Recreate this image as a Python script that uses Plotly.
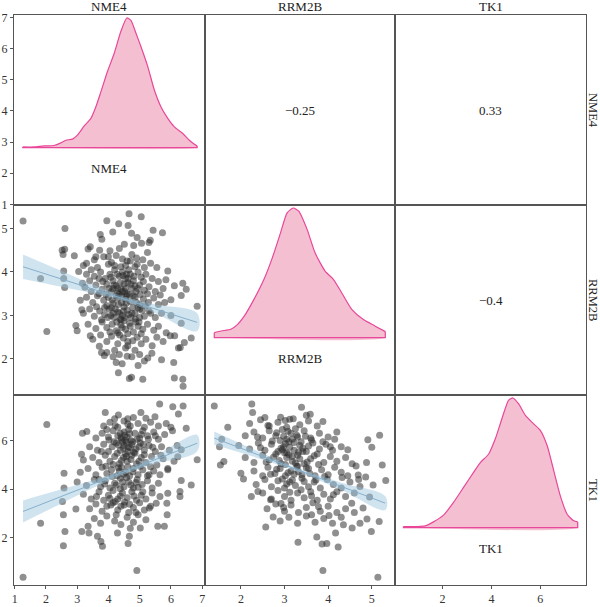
import plotly.graph_objects as go
from plotly.subplots import make_subplots

# ---------------- data ----------------
variables = ["NME4", "RRM2B", "TK1"]
corr_labels_pos = [(1, 2), (1, 3), (2, 3)]
corr_values = [-0.25, 0.33, -0.4]

axis_ranges = {"NME4": [0.98, 7.08], "RRM2B": [1.17, 5.54], "TK1": [0.07, 7.87]}
tick_values = {"NME4": [1, 2, 3, 4, 5, 6, 7], "RRM2B": [2, 3, 4, 5], "TK1": [2, 4, 6]}

# scatter NME4 (x) vs RRM2B (y)
pts_nme4_rrm2b = [
    (1.27,5.17),(2.61,5.0),(4.66,5.34),(5.05,5.27),(3.95,5.18),(4.33,5.11),(4.63,5.07),(4.74,4.89),(4.14,4.92),
    (3.74,4.86),(3.79,4.75),(5.43,4.96),(5.73,4.90),(4.92,4.79),(5.34,4.73),(5.06,4.66),(5.30,4.68),(2.52,4.50),
    (2.60,4.52),(2.55,4.40),(2.91,4.37),(3.42,4.58),(3.35,4.53),(3.72,4.50),(4.05,4.49),(4.35,4.54),(4.51,4.64),
    (4.81,4.61),(1.83,3.85),(2.03,2.63),(2.57,4.02),(2.57,3.85),(2.60,3.64),(3.05,4.01),(3.17,3.74),(2.96,2.77),
    (3.00,2.65),(3.15,3.13),(3.42,2.53),(3.71,2.29),(3.87,2.08),(3.78,2.15),(4.32,1.68),(4.44,1.89),(4.67,1.55),
    (4.74,1.58),(5.10,1.53),(4.60,2.06),(5.26,2.02),(5.39,2.13),(5.70,1.98),(6.09,1.92),(6.11,1.56),(6.38,1.53),
    (6.39,1.37),(6.24,2.25),(6.30,2.26),(6.43,2.38),(6.65,2.48),(6.84,3.21),(6.38,3.74),(6.49,3.60),(6.33,3.46),
    (6.11,3.68),(6.12,2.53),(5.98,2.53),(6.33,2.82),(5.90,4.02),(6.00,3.36),(5.84,3.82),(5.66,3.47),
    (3.55,4.28),(3.85,4.35),(4.10,4.22),(4.25,4.38),(4.45,4.30),(4.60,4.25),(4.75,4.40),(4.90,4.32),(5.10,4.28),
    (5.25,4.45),(3.30,4.20),(3.65,4.10),(4.00,4.18),(4.55,4.15),(4.85,4.12),(5.35,4.20),(5.55,4.10),(3.20,4.15),
    (3.45,4.05),(3.30,3.95),(3.55,3.90),(3.75,4.00),(3.90,3.85),(4.05,3.95),(4.20,4.05),(4.35,3.90),(4.45,4.00),
    (4.55,3.85),(4.70,3.95),(4.80,3.80),(4.95,4.00),(5.05,3.88),(5.20,3.95),(5.40,3.85),(5.60,3.78),(3.40,3.80),
    (4.15,3.80),(4.62,3.75),(3.25,3.65),(3.45,3.55),(3.60,3.70),(3.80,3.60),(3.95,3.72),(4.10,3.55),(4.25,3.68),
    (4.40,3.60),(4.50,3.72),(4.60,3.50),(4.75,3.62),(4.88,3.55),(5.00,3.70),(5.15,3.58),(5.30,3.66),(5.50,3.55),
    (5.75,3.62),(4.30,3.52),(4.55,3.62),(3.70,3.50),(3.10,3.35),(3.30,3.42),(3.50,3.30),(3.65,3.45),(3.85,3.35),
    (4.00,3.42),(4.15,3.28),(4.30,3.40),(4.42,3.30),(4.58,3.45),(4.70,3.32),(4.85,3.42),(5.00,3.25),(5.12,3.38),
    (5.28,3.30),(5.45,3.40),(5.60,3.25),(5.80,3.30),(3.95,3.22),(4.50,3.20),(4.35,3.48),(3.20,3.05),(3.40,3.15),
    (3.55,2.98),(3.72,3.10),(3.88,3.02),(4.02,3.15),(4.18,2.95),(4.30,3.08),(4.45,3.00),(4.60,3.12),(4.72,2.95),
    (4.85,3.05),(5.00,3.15),(5.15,2.98),(5.30,3.10),(5.50,2.95),(5.70,3.05),(6.00,3.00),(4.38,2.92),(4.08,3.00),
    (3.35,2.80),(3.60,2.70),(3.80,2.85),(3.95,2.72),(4.12,2.80),(4.25,2.65),(4.40,2.78),(4.55,2.68),(4.68,2.82),
    (4.80,2.62),(4.95,2.75),(5.10,2.68),(5.25,2.80),(5.45,2.66),(5.60,2.75),(5.85,2.60),(4.50,2.88),(3.50,2.45),
    (3.75,2.55),(3.95,2.40),(4.10,2.52),(4.30,2.35),(4.48,2.48),(4.62,2.30),(4.78,2.42),(4.92,2.50),(5.05,2.35),
    (5.20,2.45),(5.40,2.30),(5.55,2.50),(5.75,2.40),(4.20,2.20),(4.85,2.20),(3.95,2.15),(4.15,2.05),(4.35,2.10),
    (4.55,2.25),(4.75,2.05),(5.00,2.10),(5.15,1.95),(4.95,1.85),(4.25,1.92),
    (3.82,3.78),(3.92,3.48),(4.02,3.62),(4.08,3.88),(4.12,3.35),(4.18,3.70),(4.22,3.15),(4.28,3.95),(4.32,3.25),
    (4.38,3.75),(4.42,3.45),(4.47,3.92),(4.48,3.10),(4.52,3.55),(4.57,3.28),(4.63,3.85),(4.65,3.02),(4.68,3.48),
    (4.72,3.72),(4.78,3.18),(4.82,3.90),(4.86,2.92),(4.90,3.30),(4.94,3.62),(4.98,2.85),(5.02,3.48),(5.08,3.12),
    (5.12,3.78),(5.18,3.22),(3.88,3.18),(3.98,2.95),(4.05,2.62),(4.15,3.05),(4.27,2.85),(4.36,2.55),(4.44,2.72),
    (4.53,2.95),(4.62,2.58),(4.70,2.75),(4.88,2.85),(5.05,2.58),(4.20,4.15),(4.40,4.12),(4.65,4.05),(4.92,4.18),
    (4.30,3.62),(4.58,3.95),(4.80,3.45),(4.10,3.18),(4.35,3.05),(3.70,3.85),(3.62,3.20),(3.78,2.90),(3.60,4.35),
    (5.25,3.50),(5.35,3.05),(5.15,4.10),(4.00,4.35),(4.70,4.25),(4.45,3.55),(4.25,3.45),(4.55,3.38),(4.75,3.05),
    (4.95,3.18),(4.15,3.62),(4.85,3.68),(4.40,2.90),(4.62,2.40),(4.30,2.60),(5.00,2.95),
]

# scatter NME4 (x) vs TK1 (y)
pts_nme4_tk1 = [
    (1.27,0.39),(2.03,6.66),(1.83,2.61),(2.58,4.66),(2.58,4.05),(2.53,3.50),(2.56,2.95),(2.56,1.68),(2.61,2.27),
    (2.96,3.19),(3.15,2.27),(3.17,6.30),(3.31,6.37),(3.14,5.44),(3.35,2.48),(3.38,2.20),(3.65,2.07),(3.81,1.66),
    (3.76,1.86),(3.90,7.15),(4.32,7.05),(4.62,6.89),(5.04,7.15),(5.20,6.92),(5.49,6.98),(5.64,7.50),(6.06,7.39),
    (6.39,7.42),(6.24,7.09),(6.49,6.51),(6.84,5.21),(6.65,4.18),(6.33,4.36),(6.29,3.91),(6.29,3.70),(5.88,2.95),
    (5.79,2.48),(5.58,2.48),(4.91,0.67),(4.63,1.77),(4.29,2.20),(4.67,2.07),(5.02,2.41),(5.31,3.23),(5.53,3.43),
    (5.87,3.43),(5.90,3.84),(6.22,5.34),(6.33,5.62),(5.90,4.80),
    (3.85,6.60),(4.05,6.75),(4.30,6.55),(4.50,6.80),(4.70,6.60),(4.95,6.70),(5.15,6.55),(5.35,6.75),(5.60,6.60),
    (5.85,6.70),(4.20,6.90),(4.80,6.95),(6.00,6.55),(3.60,6.10),(3.80,6.30),(4.00,6.15),(4.15,6.40),(4.30,6.20),
    (4.42,6.05),(4.50,6.35),(4.60,6.15),(4.72,6.00),(4.85,6.30),(5.00,6.10),(5.10,6.40),(5.25,6.20),(5.45,6.35),
    (5.60,6.05),(5.80,6.25),(6.05,6.40),(4.38,6.30),(4.65,6.45),(4.55,6.00),(3.40,5.75),(3.65,5.60),(3.85,5.85),
    (4.00,5.55),(4.12,5.75),(4.25,5.90),(4.38,5.60),(4.50,5.80),(4.62,5.55),(4.75,5.85),(4.88,5.65),(5.02,5.90),
    (5.15,5.60),(5.30,5.80),(5.50,5.55),(5.70,5.75),(5.95,5.60),(6.20,5.80),(4.45,5.95),(4.70,5.70),(3.20,5.20),
    (3.50,5.30),(3.70,5.10),(3.90,5.40),(4.05,5.15),(4.20,5.35),(4.35,5.05),(4.48,5.30),(4.60,5.15),(4.75,5.40),
    (4.90,5.05),(5.05,5.30),(5.20,5.10),(5.38,5.35),(5.55,5.00),(5.75,5.25),(6.10,5.15),(4.55,5.45),(3.10,4.70),
    (3.35,4.85),(3.60,4.60),(3.80,4.90),(3.95,4.65),(4.10,4.80),(4.28,4.55),(4.42,4.90),(4.55,4.70),(4.68,4.55),
    (4.80,4.85),(4.95,4.60),(5.10,4.80),(5.25,4.55),(5.45,4.75),(5.65,4.60),(5.90,4.85),(4.35,4.75),(3.00,4.30),
    (3.30,4.15),(3.55,4.40),(3.75,4.10),(3.90,4.35),(4.05,4.05),(4.20,4.25),(4.38,4.45),(4.50,4.10),(4.65,4.30),
    (4.80,4.05),(4.92,4.40),(5.08,4.20),(5.25,4.35),(5.40,4.05),(5.60,4.25),(4.45,4.30),(3.20,3.80),(3.45,3.60),
    (3.70,3.90),(3.85,3.55),(4.00,3.75),(4.15,3.95),(4.30,3.60),(4.45,3.85),(4.60,3.65),(4.75,3.90),(4.90,3.55),
    (5.05,3.75),(5.20,3.60),(5.40,3.85),(5.65,3.70),(4.22,3.50),(3.40,3.20),(3.60,3.40),(3.80,3.10),(3.95,3.30),
    (4.15,3.45),(4.30,3.15),(4.50,3.35),(4.65,3.05),(4.80,3.25),(5.00,3.45),(5.15,3.15),(5.35,3.30),(3.55,2.80),
    (3.75,2.60),(3.95,2.90),(4.20,2.70),(4.40,2.55),(4.60,2.85),(4.80,2.65),(4.95,2.95),(5.20,2.75),
    (4.02,6.02),(4.18,5.95),(4.32,5.82),(4.40,6.12),(4.48,5.68),(4.52,6.22),(4.58,5.92),(4.64,5.72),(4.68,6.28),
    (4.78,5.95),(4.82,5.52),(4.92,6.05),(4.98,5.75),(5.05,6.25),(5.12,5.85),(4.28,5.48),(4.42,5.18),(4.58,5.35),
    (4.72,5.22),(4.85,5.48),(4.98,5.15),(5.15,5.42),(4.15,5.02),(4.32,4.88),(4.48,4.62),(4.62,4.92),(4.78,4.72),
    (4.88,4.28),(5.02,4.95),(4.12,4.52),(4.25,4.18),(4.38,4.02),(4.58,4.48),(4.72,4.18),(4.95,4.08),(4.05,3.62),
    (4.38,3.72),(4.52,3.48),(4.82,3.72),(4.68,3.38),(3.92,4.95),(3.78,5.55),(3.95,6.45),(4.22,6.62),(4.62,6.68),
    (5.28,6.05),(5.42,5.72),(5.35,4.92),(3.70,4.40),(3.62,3.70),(4.88,3.05),(4.40,3.30),(4.25,2.95),(4.70,2.40),
    (5.10,3.90),(5.30,4.60),(5.50,6.20),(5.68,5.40),(3.88,4.22),(4.08,3.35),
]

# scatter RRM2B (x) vs TK1 (y)
pts_rrm2b_tk1 = [
    (1.39,7.42),(2.25,7.50),(2.27,7.15),(1.70,6.55),(1.56,6.05),(1.51,5.75),(1.53,5.00),(1.61,5.14),(2.00,4.66),
    (2.06,4.42),(2.24,3.70),(2.39,3.91),(2.57,2.45),(2.68,3.57),(2.74,2.86),(2.91,6.96),(3.12,6.87),(3.39,7.37),
    (3.50,7.04),(3.59,7.08),(3.88,6.78),(3.31,1.82),(3.88,0.67),(3.86,1.75),(3.97,1.77),(3.74,2.04),(4.17,2.20),
    (4.23,1.63),(4.35,2.54),(4.55,2.41),(4.73,2.61),(4.89,2.78),(4.99,2.27),(5.17,2.68),(5.14,0.39),(4.91,6.03),
    (5.00,5.73),(5.18,6.22),(4.88,5.10),(5.24,5.00),(5.32,4.36),(5.03,4.18),(4.86,4.50),(4.69,4.59),(4.64,4.96),
    (4.73,4.11),(4.95,3.68),(4.80,3.23),(4.54,3.43),
    (2.20,6.70),(2.45,6.85),(2.65,6.60),(2.85,6.75),(3.05,6.55),(3.20,6.90),(3.35,6.65),(3.55,6.80),(3.75,6.60),
    (2.55,6.95),(2.10,6.20),(2.30,6.35),(2.50,6.10),(2.65,6.40),(2.80,6.20),(2.95,6.45),(3.05,6.05),(3.15,6.30),
    (3.30,6.15),(3.45,6.40),(3.60,6.10),(3.80,6.30),(4.00,6.15),(4.20,6.35),(3.25,6.48),(2.90,6.00),(1.95,5.80),
    (2.20,5.65),(2.40,5.90),(2.55,5.60),(2.70,5.85),(2.85,5.55),(2.98,5.75),(3.10,5.95),(3.22,5.60),(3.35,5.80),
    (3.50,5.55),(3.65,5.90),(3.80,5.65),(3.95,5.85),(4.10,5.60),(4.30,5.75),(3.05,5.50),(2.10,5.30),(2.30,5.10),
    (2.50,5.40),(2.65,5.20),(2.80,5.45),(2.92,5.05),(3.05,5.30),(3.18,5.15),(3.30,5.40),(3.45,5.05),(3.60,5.25),
    (3.75,5.45),(3.90,5.10),(4.05,5.35),(4.20,5.15),(4.40,5.30),(4.55,5.05),(3.00,5.50),(2.30,4.75),(2.50,4.55),
    (2.62,4.90),(2.78,4.65),(2.90,4.85),(3.02,4.55),(3.15,4.75),(3.28,4.95),(3.40,4.60),(3.55,4.85),(3.70,4.55),
    (3.85,4.80),(4.00,4.60),(4.15,4.90),(4.30,4.70),(4.45,4.55),(3.22,4.62),(2.35,4.20),(2.55,4.40),(2.70,4.10),
    (2.85,4.35),(3.00,4.05),(3.12,4.30),(3.25,4.15),(3.40,4.45),(3.55,4.10),(3.68,4.30),(3.82,4.05),(3.98,4.40),
    (4.12,4.20),(4.30,4.05),(4.50,4.30),(4.70,4.40),(2.50,3.85),(2.70,3.60),(2.85,3.95),(3.00,3.70),(3.15,3.55),
    (3.30,3.85),(3.45,3.65),(3.60,3.90),(3.75,3.55),(3.90,3.80),(4.05,3.60),(4.20,3.90),(4.40,3.70),(4.60,3.85),
    (2.60,3.20),(2.80,3.40),(3.00,3.10),(3.15,3.35),(3.32,3.05),(3.50,3.25),(3.65,3.45),(3.82,3.10),(4.00,3.30),
    (4.20,3.05),(4.40,3.20),(4.60,3.05),(2.90,2.70),(3.10,2.85),(3.30,2.60),(3.50,2.90),(3.70,2.65),(3.90,2.80),
    (4.10,2.60),(4.30,2.85),
    (2.72,5.98),(2.82,6.32),(2.92,5.68),(2.98,6.18),(3.02,5.88),(3.08,6.38),(3.12,5.72),(3.18,6.05),(3.22,5.92),
    (3.28,6.22),(3.32,5.52),(3.38,5.95),(3.42,5.68),(3.48,6.18),(3.55,5.78),(3.62,6.02),(2.75,5.32),(2.88,5.18),
    (2.95,5.62),(3.02,5.02),(3.10,5.42),(3.18,5.35),(3.25,5.08),(3.35,5.25),(3.42,5.55),(3.52,5.12),(3.68,5.38),
    (3.78,5.02),(2.82,4.82),(2.95,4.42),(3.08,4.68),(3.18,4.38),(3.32,4.72),(3.45,4.32),(3.58,4.65),(3.72,4.38),
    (3.92,4.52),(2.68,4.62),(2.58,5.12),(2.45,5.70),(2.38,6.15),(3.88,5.95),(4.05,5.75),(3.62,3.72),(3.38,3.98),
    (3.12,3.88),(2.92,3.42),(3.78,3.28),(4.12,3.78),(4.32,4.48),(4.45,5.62),(4.15,6.05),(2.62,6.62),(3.02,6.82),
    (3.30,4.95),(3.05,4.22),(3.50,4.88),(2.98,3.25),(3.62,2.95),(4.02,2.92),
]

# linear fits with confidence bands (x, fit, lower, upper)
fit_nme4_rrm2b_x = [1.27, 2.5, 3.5, 4.5, 5.5, 6.84]
fit_nme4_rrm2b_y = [4.12, 3.84, 3.61, 3.38, 3.15, 2.84]
fit_nme4_rrm2b_lo = [3.84, 3.66, 3.51, 3.33, 3.05, 2.64]
fit_nme4_rrm2b_hi = [4.40, 4.02, 3.71, 3.43, 3.25, 3.05]

fit_nme4_tk1_x = [1.27, 2.5, 3.5, 4.5, 5.5, 6.84]
fit_nme4_tk1_y = [3.09, 3.71, 4.21, 4.71, 5.21, 5.89]
fit_nme4_tk1_lo = [2.64, 3.42, 4.05, 4.62, 5.05, 5.56]
fit_nme4_tk1_hi = [3.54, 4.00, 4.37, 4.80, 5.37, 6.23]

fit_rrm2b_tk1_x = [1.39, 2.3, 3.3, 4.3, 5.31]
fit_rrm2b_tk1_y = [6.10, 5.48, 4.80, 4.12, 3.43]
fit_rrm2b_tk1_lo = [5.83, 5.33, 4.73, 3.97, 3.15]
fit_rrm2b_tk1_hi = [6.37, 5.63, 4.87, 4.27, 3.71]

# density curves (relative height, peak = 1)
dens_nme4_x = [1.26,1.62,1.94,2.26,2.48,2.64,2.85,3.01,3.22,3.44,3.60,3.76,3.97,4.19,4.40,4.59,4.72,4.88,
               5.04,5.26,5.47,5.68,5.90,6.11,6.38,6.59,6.75,6.84]
dens_nme4_y = [0.005,0.005,0.013,0.016,0.036,0.057,0.065,0.096,0.165,0.225,0.315,0.43,0.587,0.73,0.897,1.0,
               0.982,0.884,0.78,0.625,0.444,0.315,0.225,0.16,0.109,0.057,0.026,0.013]
dens_rrm2b_x = [1.39,1.55,1.77,1.92,2.08,2.30,2.53,2.72,2.91,3.06,3.20,3.33,3.52,3.70,3.93,4.12,4.31,4.54,
                4.80,5.07,5.31]
dens_rrm2b_y = [0.038,0.051,0.064,0.10,0.167,0.295,0.45,0.615,0.81,0.962,1.0,0.974,0.833,0.654,0.513,0.45,
                0.346,0.218,0.141,0.09,0.046]
dens_tk1_x = [0.40,0.95,1.29,1.63,2.04,2.45,2.86,3.27,3.54,3.89,4.16,4.43,4.70,4.88,5.11,5.39,5.73,6.00,
              6.28,6.55,6.82,7.10,7.37,7.53]
dens_tk1_y = [0.008,0.008,0.013,0.044,0.096,0.194,0.31,0.426,0.50,0.568,0.685,0.84,0.982,1.0,0.956,0.866,
              0.80,0.75,0.633,0.44,0.245,0.103,0.052,0.044]

# ---------------- styling ----------------
FONT = "Liberation Serif"
BORDER = "#555555"
PT_COLOR = "rgba(40,40,40,0.52)"
BAND_COLOR = "rgba(150,195,222,0.45)"
FIT_COLOR = "#86afcb"
DENS_FILL = "#f4bfd1"
DENS_LINE = "#e8479a"
DENS_RANGE = [-0.443, 1.023]

fig = make_subplots(rows=3, cols=3, horizontal_spacing=0, vertical_spacing=0)

# invisible anchor traces so every panel's axes get drawn
for r in range(1, 4):
    for c in range(1, 4):
        fig.add_trace(go.Scatter(x=[None], y=[None], mode="markers", showlegend=False,
                                 hoverinfo="skip"), row=r, col=c)

def add_scatter(pts, fx, fy, flo, fhi, row, col):
    fig.add_trace(go.Scatter(x=[p[0] for p in pts], y=[p[1] for p in pts], mode="markers",
                             marker=dict(size=7, color=PT_COLOR, line=dict(width=0)),
                             showlegend=False, hoverinfo="skip"), row=row, col=col)
    fig.add_trace(go.Scatter(x=fx + fx[::-1], y=fhi + flo[::-1], mode="lines", fill="toself",
                             fillcolor=BAND_COLOR, line=dict(width=0, shape="spline"),
                             showlegend=False, hoverinfo="skip"), row=row, col=col)
    fig.add_trace(go.Scatter(x=fx, y=fy, mode="lines", line=dict(color=FIT_COLOR, width=1),
                             showlegend=False, hoverinfo="skip"), row=row, col=col)

add_scatter(pts_nme4_rrm2b, fit_nme4_rrm2b_x, fit_nme4_rrm2b_y, fit_nme4_rrm2b_lo, fit_nme4_rrm2b_hi, 2, 1)
add_scatter(pts_nme4_tk1, fit_nme4_tk1_x, fit_nme4_tk1_y, fit_nme4_tk1_lo, fit_nme4_tk1_hi, 3, 1)
add_scatter(pts_rrm2b_tk1, fit_rrm2b_tk1_x, fit_rrm2b_tk1_y, fit_rrm2b_tk1_lo, fit_rrm2b_tk1_hi, 3, 2)

def add_density(xs, ys, xaxis, yaxis):
    # filled area
    fig.add_trace(go.Scatter(x=xs + [xs[-1], xs[0]], y=ys + [0, 0], mode="lines", fill="toself",
                             fillcolor=DENS_FILL, line=dict(width=0, shape="spline", smoothing=0.6),
                             xaxis=xaxis, yaxis=yaxis, showlegend=False, hoverinfo="skip"))
    # smooth outline of the curve
    fig.add_trace(go.Scatter(x=xs, y=ys, mode="lines",
                             line=dict(color=DENS_LINE, width=1.2, shape="spline", smoothing=0.6),
                             xaxis=xaxis, yaxis=yaxis, showlegend=False, hoverinfo="skip"))
    # baseline and end edges
    fig.add_trace(go.Scatter(x=[xs[-1], xs[-1], xs[0], xs[0]], y=[ys[-1], 0, 0, ys[0]], mode="lines",
                             line=dict(color=DENS_LINE, width=1.2),
                             xaxis=xaxis, yaxis=yaxis, showlegend=False, hoverinfo="skip"))

add_density(dens_nme4_x, dens_nme4_y, "x", "y10")
add_density(dens_rrm2b_x, dens_rrm2b_y, "x5", "y5")
add_density(dens_tk1_x, dens_tk1_y, "x9", "y9")

def ref(axis, idx):
    return axis if idx == 1 else f"{axis}{idx}"

# axes
for r in range(1, 4):
    for c in range(1, 4):
        idx = (r - 1) * 3 + c
        xname = "xaxis" if idx == 1 else f"xaxis{idx}"
        yname = "yaxis" if idx == 1 else f"yaxis{idx}"
        xv, yv = variables[c - 1], variables[r - 1]
        common = dict(showline=True, mirror=True, linecolor=BORDER, linewidth=1, showgrid=False,
                      zeroline=False, tickfont=dict(family=FONT, size=12, color="#333"),
                      ticklen=3, tickcolor=BORDER, automargin=False)
        xa = dict(common, range=axis_ranges[xv], tickvals=tick_values[xv], autorange=False,
                  showticklabels=(r == 3), ticks="outside" if r == 3 else "")
        if r == c and r != 1:
            ya = dict(common, range=DENS_RANGE, showticklabels=False, ticks="", autorange=False)
        else:
            ya = dict(common, range=axis_ranges[yv], tickvals=tick_values[yv], autorange=False,
                      showticklabels=(c == 1), ticks="outside" if c == 1 else "")
        fig.layout[xname].update(xa)
        fig.layout[yname].update(ya)

fig.update_layout(yaxis10=dict(overlaying="y", anchor="x", range=DENS_RANGE, autorange=False,
                               visible=False, showgrid=False, zeroline=False, automargin=False))

annotations = []
for (r, c), v in zip(corr_labels_pos, corr_values):
    idx = (r - 1) * 3 + c
    txt = f"{v:g}".replace("-", "\u2212")
    annotations.append(dict(text=txt, x=0.5, y=0.5, xref=ref("x", idx) + " domain",
                            yref=ref("y", idx) + " domain",
                            showarrow=False, font=dict(family=FONT, size=13, color="#222")))
for i, v in enumerate(variables):
    idx = i * 3 + i + 1
    annotations.append(dict(text=v, x=0.5, y=0.143, xref=ref("x", idx) + " domain",
                            yref=ref("y", idx) + " domain",
                            showarrow=False, font=dict(family=FONT, size=13, color="#222")))
    # top strip
    annotations.append(dict(text=v, x=(i + 0.5) / 3, y=1, xref="paper", yref="paper",
                            xanchor="center", yanchor="bottom", showarrow=False, yshift=-1,
                            font=dict(family=FONT, size=13, color="#222")))
    # right strip
    annotations.append(dict(text=v, x=1, y=1 - (i + 0.5) / 3, xref="paper", yref="paper",
                            xanchor="center", yanchor="middle", textangle=90, showarrow=False,
                            xshift=7, font=dict(family=FONT, size=12.5, color="#222")))

fig.update_layout(width=600, height=607, margin=dict(l=14, r=14, t=15, b=22),
                  paper_bgcolor="white", plot_bgcolor="white", annotations=annotations,
                  font=dict(family=FONT))

fig.write_html("out.html")
